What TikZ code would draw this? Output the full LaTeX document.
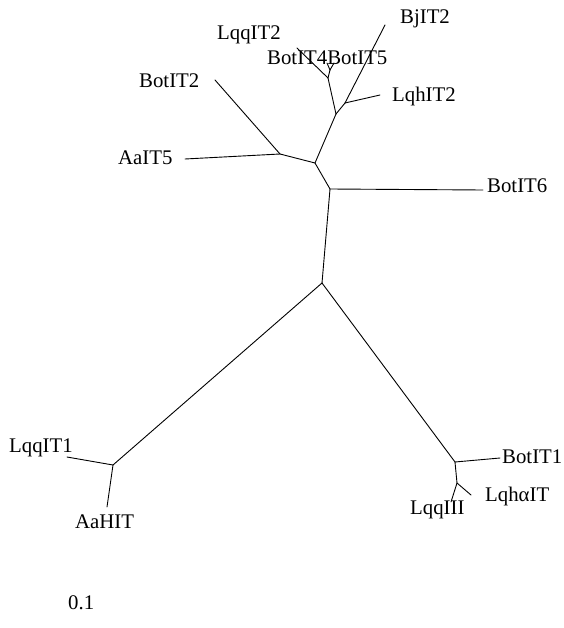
\documentclass[tikz,border=0pt]{standalone}
\usepackage{fontspec}
\setmainfont{Liberation Serif}
\begin{document}
\begin{tikzpicture}[x=1pt,y=-1pt,
  br/.style={line width=0.9pt, line cap=round, line join=round},
  lab/.style={anchor=base west, inner sep=0pt, font=\fontsize{20.8}{24}\selectfont}]
\useasboundingbox[fill=white] (0,0) rectangle (563,628);
% internal junctions
\coordinate (R) at (322,283);
\coordinate (C) at (330,189);
\coordinate (D) at (315,163);
\coordinate (E) at (280,154);
\coordinate (F) at (336,114);
\coordinate (G) at (345,103);
\coordinate (A) at (328,78);
\coordinate (B) at (330,70);
\coordinate (L) at (113,465);
\coordinate (M) at (455,462);
\coordinate (N) at (457,483);
% leaf tips
\coordinate (tBotIT6) at (483,190);
\coordinate (tAaIT5) at (185,159);
\coordinate (tBotIT2) at (215,80);
\coordinate (tBjIT2) at (385,25);
\coordinate (tLqhIT2) at (380,95);
\coordinate (tLqqIT2) at (297,48);
\coordinate (tBotIT4) at (327,63);
\coordinate (tBotIT5) at (334,63);
\coordinate (tLqqIT1) at (67,457);
\coordinate (tAaHIT) at (107,507);
\coordinate (tBotIT1) at (500,458);
\coordinate (tLqqIII) at (451,502);
\coordinate (tLqha) at (471,495);
% branches
\draw[br] (R) -- (C);
\draw[br] (C) -- (tBotIT6);
\draw[br] (C) -- (D);
\draw[br] (D) -- (E);
\draw[br] (E) -- (tAaIT5);
\draw[br] (E) -- (tBotIT2);
\draw[br] (D) -- (F);
\draw[br] (F) -- (G);
\draw[br] (G) -- (tBjIT2);
\draw[br] (G) -- (tLqhIT2);
\draw[br] (F) -- (A);
\draw[br] (A) -- (tLqqIT2);
\draw[br] (A) -- (B);
\draw[br] (B) -- (tBotIT4);
\draw[br] (B) -- (tBotIT5);
\draw[br] (R) -- (L);
\draw[br] (L) -- (tLqqIT1);
\draw[br] (L) -- (tAaHIT);
\draw[br] (R) -- (M);
\draw[br] (M) -- (tBotIT1);
\draw[br] (M) -- (N);
\draw[br] (N) -- (tLqqIII);
\draw[br] (N) -- (tLqha);
% labels
\node[lab] (lBjIT2) at (400,24) {BjIT2};
\node[lab] (lLqqIT2) at (217,40) {LqqIT2};
\node[lab] (lBotIT45) at (267,65) {BotIT4BotIT5};
\node[lab] (lLqhIT2) at (392,102) {LqhIT2};
\node[lab] (lBotIT2) at (139,88) {BotIT2};
\node[lab] (lAaIT5) at (118,165) {AaIT5};
\node[lab] (lBotIT6) at (487,193) {BotIT6};
\node[lab] (lLqqIT1) at (9,452) {LqqIT1};
\node[lab] (lAaHIT) at (75,528) {AaHIT};
\node[lab] (lBotIT1) at (502,463) {BotIT1};
\node[lab] (lLqha) at (485,501) {LqhαIT};
\node[lab] (lLqqIII) at (410,514) {LqqIII};
\node[lab] (lscale) at (68,609) {0.1};
\end{tikzpicture}
\end{document}
